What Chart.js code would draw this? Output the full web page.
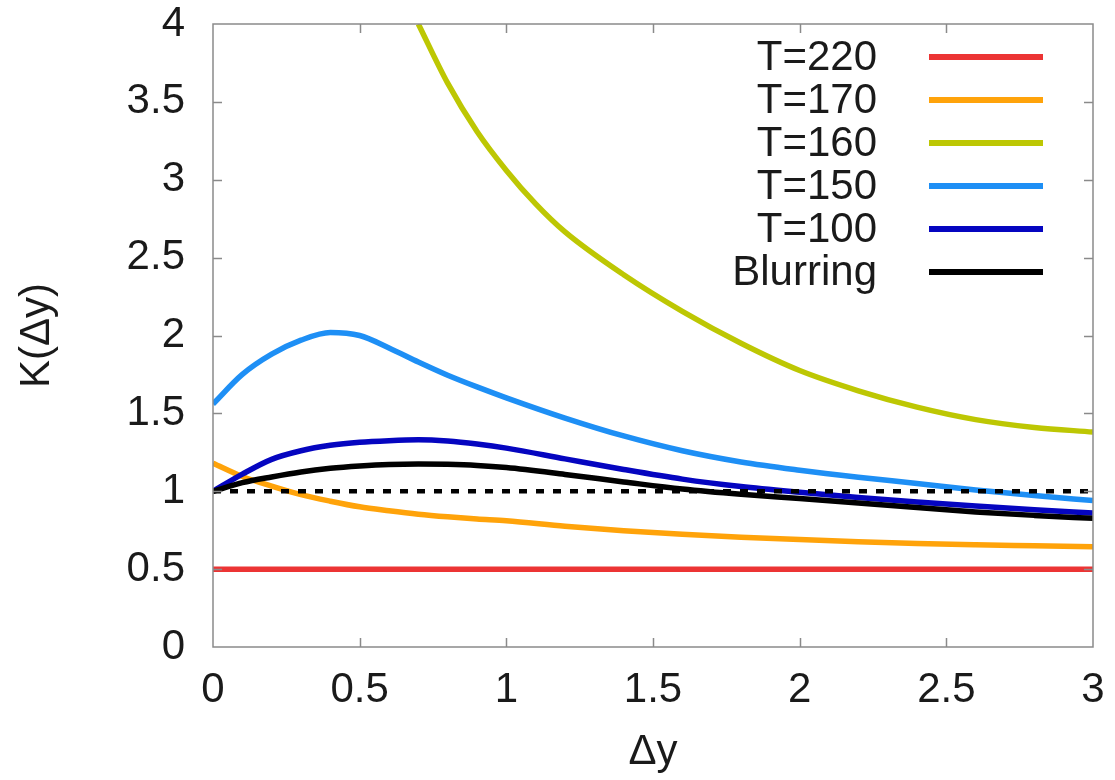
<!DOCTYPE html>
<html>
<head>
<meta charset="utf-8">
<script src="https://cdn.jsdelivr.net/npm/chart.js@4.4.1/dist/chart.umd.min.js"></script>
<style>
  html, body { margin: 0; padding: 0; background: #fff; }
  #wrap { width: 1115px; height: 780px; }
</style>
</head>
<body>
<div id="wrap"><canvas id="kChart" width="1115" height="780"></canvas></div>
<script>
// sample positions (Δy) shared by most curves
const dyFine = [0, 0.1, 0.2, 0.3, 0.4, 0.5, 0.6, 0.7, 0.8, 0.9, 1.0,
                1.2, 1.4, 1.6, 1.8, 2.0, 2.2, 2.4, 2.6, 2.8, 3.0];

const kT170 = [1.18, 1.095, 1.033, 0.978, 0.936, 0.9, 0.875, 0.853, 0.836, 0.822, 0.81,
               0.776, 0.747, 0.724, 0.705, 0.69, 0.676, 0.664, 0.656, 0.65, 0.644];
const kT150 = [1.56, 1.75, 1.88, 1.97, 2.02, 2.0, 1.92, 1.83, 1.745, 1.67, 1.6,
               1.47, 1.355, 1.26, 1.188, 1.135, 1.09, 1.05, 1.008, 0.972, 0.94];
const kT100 = [1.0, 1.11, 1.205, 1.26, 1.295, 1.315, 1.325, 1.33, 1.322, 1.303, 1.277,
               1.208, 1.14, 1.078, 1.03, 0.993, 0.96, 0.931, 0.905, 0.881, 0.86];
const kBlur = [1.0, 1.055, 1.092, 1.124, 1.147, 1.162, 1.172, 1.175, 1.173, 1.166, 1.152,
               1.108, 1.06, 1.014, 0.98, 0.953, 0.925, 0.895, 0.867, 0.845, 0.826];

// T=160 only enters the frame around Δy = 0.7
const dyT160 = [0.7, 0.8, 0.9, 1.0, 1.1, 1.2, 1.4, 1.6, 1.8, 2.0, 2.2, 2.4, 2.6, 2.8, 3.0];
const kT160 = [4.0, 3.62, 3.31, 3.06, 2.845, 2.665, 2.39, 2.155, 1.95, 1.775, 1.645, 1.54, 1.46, 1.41, 1.38];

const dyEnds = [0, 3];
const kT220 = [0.5, 0.5];
const kRef = [1, 1]; // dotted reference at K = 1

const xTickVals = [0, 0.5, 1, 1.5, 2, 2.5, 3];
const xTickLabels = ['0', '0.5', '1', '1.5', '2', '2.5', '3'];
const yTickVals = [0, 0.5, 1, 1.5, 2, 2.5, 3, 3.5, 4];
const yTickLabels = ['0', '0.5', '1', '1.5', '2', '2.5', '3', '3.5', '4'];

const FONT = '"Liberation Sans", Arial, sans-serif';
const TEXT = '#1a1a1a';

const pts = (xs, ys) => xs.map((x, i) => ({ x: x, y: ys[i] }));

// box around the plot with inward tick marks on all four sides
const frameTicks = {
    id: 'frameTicks',
    afterDatasetsDraw(chart) {
        const { ctx, chartArea: a, scales: { x, y } } = chart;
        const len = 9;
        ctx.save();
        ctx.strokeStyle = '#8a8a8a';
        ctx.lineWidth = 1.5;
        ctx.strokeRect(a.left, a.top, a.right - a.left, a.bottom - a.top);
        ctx.beginPath();
        x.ticks.forEach(t => {
            if (t.value <= x.min || t.value >= x.max) return;
            const px = Math.round(x.getPixelForValue(t.value)) + 0.5;
            ctx.moveTo(px, a.bottom); ctx.lineTo(px, a.bottom - len);
            ctx.moveTo(px, a.top); ctx.lineTo(px, a.top + len);
        });
        y.ticks.forEach(t => {
            if (t.value <= y.min || t.value >= y.max) return;
            const py = Math.round(y.getPixelForValue(t.value)) + 0.5;
            ctx.moveTo(a.left, py); ctx.lineTo(a.left + len, py);
            ctx.moveTo(a.right, py); ctx.lineTo(a.right - len, py);
        });
        ctx.stroke();
        ctx.restore();
    }
};

// gnuplot style key: label right aligned, line sample after it
const keyBox = {
    id: 'keyBox',
    afterDraw(chart) {
        const { ctx, chartArea: a } = chart;
        const items = chart.data.datasets.filter(d => d.inKey);
        ctx.save();
        ctx.font = '42px ' + FONT;
        ctx.textAlign = 'right';
        ctx.textBaseline = 'middle';
        items.forEach((d, i) => {
            const yy = a.top + 33 + i * 43;
            ctx.fillStyle = TEXT;
            ctx.fillText(d.label, a.right - 216, yy + 1);
            ctx.strokeStyle = d.borderColor;
            ctx.lineWidth = 6;
            ctx.beginPath();
            ctx.moveTo(a.right - 164, yy);
            ctx.lineTo(a.right - 50, yy);
            ctx.stroke();
        });
        ctx.restore();
    }
};

// stop the scales from reserving room for half labels at the ends
const noEdgePad = s => {
    s.paddingTop = 0; s.paddingBottom = 0;
    s.paddingLeft = 0; s.paddingRight = 0;
};

function initChart() {
    const ctx = document.getElementById('kChart').getContext('2d');

    const datasets = [
        { label: 'T=220', data: pts(dyEnds, kT220), borderColor: '#ec3434', inKey: true, order: 6 },
        { label: 'T=170', data: pts(dyFine, kT170), borderColor: '#ffa30a', inKey: true, order: 5 },
        { label: 'T=160', data: pts(dyT160, kT160), borderColor: '#bdc703', inKey: true, order: 4 },
        { label: 'T=150', data: pts(dyFine, kT150), borderColor: '#1e8ff5', inKey: true, order: 3 },
        { label: 'T=100', data: pts(dyFine, kT100), borderColor: '#0505c0', inKey: true, order: 2 },
        { label: 'Blurring', data: pts(dyFine, kBlur), borderColor: '#000000', inKey: true, order: 1 },
        { label: 'ref', data: pts(dyEnds, kRef), borderColor: '#000000', borderWidth: 4.5,
          borderDash: [8, 9], inKey: false, order: 0 }
    ];

    new Chart(ctx, {
        type: 'line',
        data: { datasets: datasets },
        options: {
            responsive: false,
            animation: false,
            layout: { padding: { top: 24, right: 22, left: 0, bottom: 0 } },
            elements: {
                point: { radius: 0 },
                line: { borderWidth: 5.5, cubicInterpolationMode: 'monotone', fill: false }
            },
            plugins: {
                legend: { display: false },
                tooltip: { enabled: false }
            },
            scales: {
                x: {
                    type: 'linear',
                    min: 0,
                    max: 3,
                    grid: { display: false, drawTicks: false },
                    border: { display: false },
                    afterBuildTicks: s => { s.ticks = xTickVals.map(v => ({ value: v })); },
                    afterFit: s => { s.height = 133; noEdgePad(s); },
                    ticks: {
                        padding: 18,
                        color: TEXT,
                        font: { family: FONT, size: 42 },
                        maxRotation: 0,
                        callback: v => xTickLabels[xTickVals.indexOf(v)]
                    },
                    title: {
                        display: true,
                        text: 'Δy',
                        color: TEXT,
                        font: { family: FONT, size: 42 },
                        padding: { top: 0, bottom: 2 }
                    }
                },
                y: {
                    type: 'linear',
                    min: 0,
                    max: 4,
                    grid: { display: false, drawTicks: false },
                    border: { display: false },
                    afterBuildTicks: s => { s.ticks = yTickVals.map(v => ({ value: v })); },
                    afterFit: s => { s.width = 213; noEdgePad(s); },
                    ticks: {
                        padding: 28,
                        color: TEXT,
                        font: { family: FONT, size: 42 },
                        callback: v => yTickLabels[yTickVals.indexOf(v)]
                    },
                    title: {
                        display: true,
                        text: 'K(Δy)',
                        color: TEXT,
                        font: { family: FONT, size: 42 },
                        padding: { top: 12, bottom: 0 }
                    }
                }
            }
        },
        plugins: [frameTicks, keyBox]
    });
}

document.addEventListener('DOMContentLoaded', () => {
    initChart();
});
</script>
</body>
</html>
